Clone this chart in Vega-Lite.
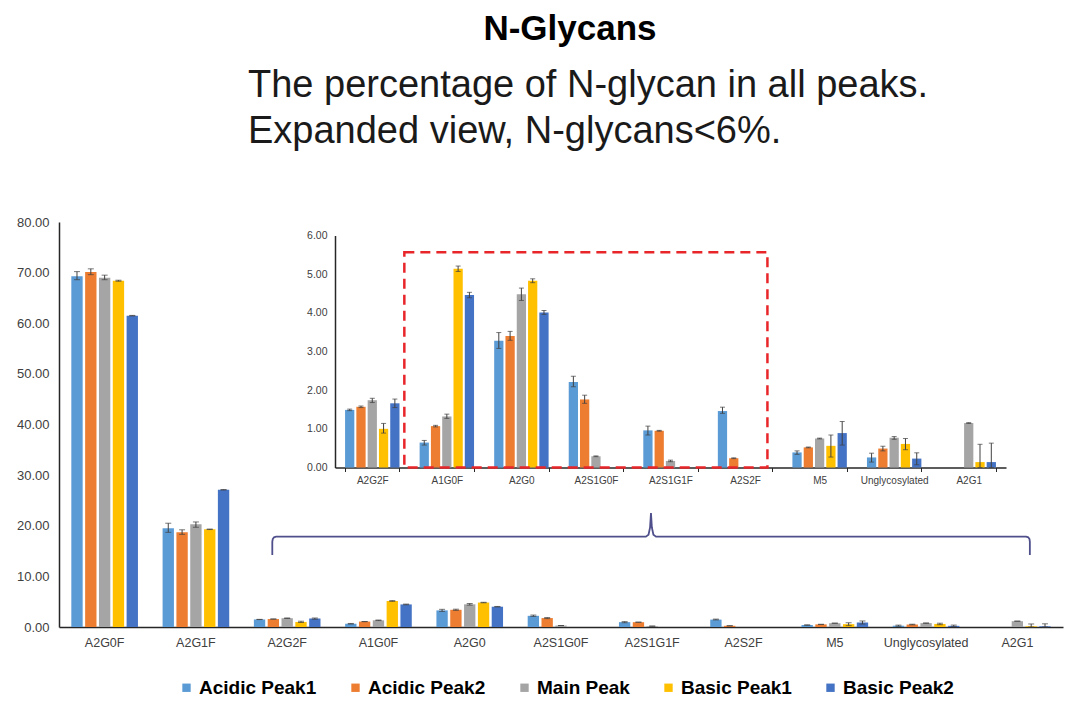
{
  "$schema": "https://vega.github.io/schema/vega-lite/v6.json",
  "width": 1004,
  "height": 405,
  "autosize": {"type": "none"},
  "padding": {"left": 59, "top": 222, "right": 17, "bottom": 88},
  "background": "white",
  "config": {
    "view": {"stroke": null},
    "font": "Liberation Sans",
    "axis": {"grid": false, "labelFont": "Liberation Sans"},
    "legend": {"labelFont": "Liberation Sans"}
  },
  "datasets": {
    "glycans": [
      {"g": "A2G0F", "p": "Acidic Peak1", "v": 69.3, "lo": 68.6, "hi": 70.2},
      {"g": "A2G0F", "p": "Acidic Peak2", "v": 70.1, "lo": 69.6, "hi": 70.75},
      {"g": "A2G0F", "p": "Main Peak", "v": 69.0, "lo": 68.6, "hi": 69.5},
      {"g": "A2G0F", "p": "Basic Peak1", "v": 68.4, "lo": 68.3, "hi": 68.5},
      {"g": "A2G0F", "p": "Basic Peak2", "v": 61.5, "lo": 61.45, "hi": 61.55},
      {"g": "A2G1F", "p": "Acidic Peak1", "v": 19.5, "lo": 18.7, "hi": 20.5},
      {"g": "A2G1F", "p": "Acidic Peak2", "v": 18.7, "lo": 18.3, "hi": 19.2},
      {"g": "A2G1F", "p": "Main Peak", "v": 20.3, "lo": 19.7, "hi": 20.75},
      {"g": "A2G1F", "p": "Basic Peak1", "v": 19.3, "lo": 19.25, "hi": 19.35},
      {"g": "A2G1F", "p": "Basic Peak2", "v": 27.1, "lo": 27.05, "hi": 27.15},
      {"g": "A2G2F", "p": "Acidic Peak1", "v": 1.49, "lo": 1.47, "hi": 1.51},
      {"g": "A2G2F", "p": "Acidic Peak2", "v": 1.57, "lo": 1.55, "hi": 1.59},
      {"g": "A2G2F", "p": "Main Peak", "v": 1.74, "lo": 1.68, "hi": 1.79},
      {"g": "A2G2F", "p": "Basic Peak1", "v": 1.0, "lo": 0.89, "hi": 1.14},
      {"g": "A2G2F", "p": "Basic Peak2", "v": 1.66, "lo": 1.55, "hi": 1.77},
      {"g": "A1G0F", "p": "Acidic Peak1", "v": 0.645, "lo": 0.58, "hi": 0.7},
      {"g": "A1G0F", "p": "Acidic Peak2", "v": 1.07, "lo": 1.05, "hi": 1.09},
      {"g": "A1G0F", "p": "Main Peak", "v": 1.32, "lo": 1.27, "hi": 1.38},
      {"g": "A1G0F", "p": "Basic Peak1", "v": 5.14, "lo": 5.07, "hi": 5.21},
      {"g": "A1G0F", "p": "Basic Peak2", "v": 4.46, "lo": 4.39, "hi": 4.53},
      {"g": "A2G0", "p": "Acidic Peak1", "v": 3.28, "lo": 3.08, "hi": 3.49},
      {"g": "A2G0", "p": "Acidic Peak2", "v": 3.4, "lo": 3.29, "hi": 3.52},
      {"g": "A2G0", "p": "Main Peak", "v": 4.48, "lo": 4.32, "hi": 4.64},
      {"g": "A2G0", "p": "Basic Peak1", "v": 4.83, "lo": 4.78, "hi": 4.88},
      {"g": "A2G0", "p": "Basic Peak2", "v": 4.01, "lo": 3.96, "hi": 4.06},
      {"g": "A2S1G0F", "p": "Acidic Peak1", "v": 2.21, "lo": 2.09, "hi": 2.36},
      {"g": "A2S1G0F", "p": "Acidic Peak2", "v": 1.76, "lo": 1.66, "hi": 1.87},
      {"g": "A2S1G0F", "p": "Main Peak", "v": 0.29, "lo": 0.28, "hi": 0.3},
      {"g": "A2S1G0F", "p": "Basic Peak1", "v": 0, "lo": null, "hi": null},
      {"g": "A2S1G0F", "p": "Basic Peak2", "v": 0, "lo": null, "hi": null},
      {"g": "A2S1G1F", "p": "Acidic Peak1", "v": 0.96, "lo": 0.84, "hi": 1.07},
      {"g": "A2S1G1F", "p": "Acidic Peak2", "v": 0.95, "lo": 0.94, "hi": 0.96},
      {"g": "A2S1G1F", "p": "Main Peak", "v": 0.17, "lo": 0.15, "hi": 0.19},
      {"g": "A2S1G1F", "p": "Basic Peak1", "v": 0, "lo": null, "hi": null},
      {"g": "A2S1G1F", "p": "Basic Peak2", "v": 0, "lo": null, "hi": null},
      {"g": "A2S2F", "p": "Acidic Peak1", "v": 1.46, "lo": 1.4, "hi": 1.56},
      {"g": "A2S2F", "p": "Acidic Peak2", "v": 0.24, "lo": 0.23, "hi": 0.25},
      {"g": "A2S2F", "p": "Main Peak", "v": 0, "lo": null, "hi": null},
      {"g": "A2S2F", "p": "Basic Peak1", "v": 0, "lo": null, "hi": null},
      {"g": "A2S2F", "p": "Basic Peak2", "v": 0, "lo": null, "hi": null},
      {"g": "M5", "p": "Acidic Peak1", "v": 0.39, "lo": 0.34, "hi": 0.43},
      {"g": "M5", "p": "Acidic Peak2", "v": 0.52, "lo": 0.51, "hi": 0.53},
      {"g": "M5", "p": "Main Peak", "v": 0.75, "lo": 0.74, "hi": 0.76},
      {"g": "M5", "p": "Basic Peak1", "v": 0.56, "lo": 0.27, "hi": 0.84},
      {"g": "M5", "p": "Basic Peak2", "v": 0.89, "lo": 0.58, "hi": 1.19},
      {"g": "Unglycosylated", "p": "Acidic Peak1", "v": 0.26, "lo": 0.14, "hi": 0.37},
      {"g": "Unglycosylated", "p": "Acidic Peak2", "v": 0.49, "lo": 0.43, "hi": 0.55},
      {"g": "Unglycosylated", "p": "Main Peak", "v": 0.77, "lo": 0.73, "hi": 0.8},
      {"g": "Unglycosylated", "p": "Basic Peak1", "v": 0.61, "lo": 0.46, "hi": 0.75},
      {"g": "Unglycosylated", "p": "Basic Peak2", "v": 0.23, "lo": 0.07, "hi": 0.38},
      {"g": "A2G1", "p": "Acidic Peak1", "v": 0, "lo": null, "hi": null},
      {"g": "A2G1", "p": "Acidic Peak2", "v": 0, "lo": null, "hi": null},
      {"g": "A2G1", "p": "Main Peak", "v": 1.15, "lo": 1.14, "hi": 1.16},
      {"g": "A2G1", "p": "Basic Peak1", "v": 0.14, "lo": 0, "hi": 0.6},
      {"g": "A2G1", "p": "Basic Peak2", "v": 0.14, "lo": 0, "hi": 0.63}
    ],
    "brace": [
      {"i": 0, "bx": -0.841, "by": -2.263},
      {"i": 1, "bx": -0.841, "by": -1.92},
      {"i": 2, "bx": -0.835, "by": -1.85},
      {"i": 3, "bx": -0.818, "by": -1.805},
      {"i": 4, "bx": -0.79, "by": -1.79},
      {"i": 5, "bx": 4.17, "by": -1.79},
      {"i": 6, "bx": 4.205, "by": -1.74},
      {"i": 7, "bx": 4.226, "by": -1.55},
      {"i": 8, "bx": 4.238, "by": -1.18},
      {"i": 9, "bx": 4.25, "by": -1.55},
      {"i": 10, "bx": 4.271, "by": -1.74},
      {"i": 11, "bx": 4.306, "by": -1.79},
      {"i": 12, "bx": 9.27, "by": -1.79},
      {"i": 13, "bx": 9.298, "by": -1.805},
      {"i": 14, "bx": 9.315, "by": -1.85},
      {"i": 15, "bx": 9.32, "by": -1.92},
      {"i": 16, "bx": 9.32, "by": -2.263}
    ]
  },
  "layer": [
    {
      "data": {"name": "glycans"},
      "encoding": {
        "x": {
          "field": "g", "type": "nominal",
          "sort": ["A2G0F", "A2G1F", "A2G2F", "A1G0F", "A2G0", "A2S1G0F", "A2S1G1F", "A2S2F", "M5", "Unglycosylated", "A2G1"],
          "scale": {"paddingInner": 0.27, "paddingOuter": 0.135},
          "axis": {"title": null, "orient": "bottom", "labelAngle": 0, "labelFontSize": 12.5, "labelColor": "#404040", "ticks": false, "labelPadding": 9, "domainColor": "#262626", "domainWidth": 1.5}
        },
        "xOffset": {
          "field": "p", "type": "nominal",
          "sort": ["Acidic Peak1", "Acidic Peak2", "Main Peak", "Basic Peak1", "Basic Peak2"],
          "scale": {"paddingInner": 0.18}
        }
      },
      "layer": [
        {
          "mark": {"type": "bar"},
          "encoding": {
            "y": {
              "field": "v", "type": "quantitative",
              "scale": {"domain": [0, 80], "nice": false},
              "axis": {"title": null, "orient": "left", "values": [0, 10, 20, 30, 40, 50, 60, 70, 80], "format": ".2f", "labelFontSize": 13, "labelColor": "#404040", "ticks": false, "labelPadding": 10, "domainColor": "#262626", "domainWidth": 1.5}
            },
            "color": {
              "field": "p", "type": "nominal",
              "sort": ["Acidic Peak1", "Acidic Peak2", "Main Peak", "Basic Peak1", "Basic Peak2"],
              "scale": {
                "domain": ["Acidic Peak1", "Acidic Peak2", "Main Peak", "Basic Peak1", "Basic Peak2"],
                "range": ["#5B9BD5", "#ED7D31", "#A5A5A5", "#FFC000", "#4472C4"]
              },
              "legend": {
                "title": null, "orient": "none", "legendX": 118, "legendY": 456,
                "direction": "horizontal", "symbolType": "square", "symbolSize": 70,
                "symbolStrokeWidth": 0, "labelFontSize": 19, "labelFontWeight": "bold",
                "labelColor": "#000000", "labelLimit": 400, "labelOffset": 3, "columnPadding": 29
              }
            }
          }
        },
        {
          "mark": {"type": "rule", "color": "#404040", "strokeWidth": 1},
          "encoding": {
            "y": {
              "field": "lo", "type": "quantitative",
              "axis": {"title": null, "orient": "left", "values": [0, 10, 20, 30, 40, 50, 60, 70, 80], "format": ".2f", "labelFontSize": 13, "labelColor": "#404040", "ticks": false, "labelPadding": 10, "domainColor": "#262626", "domainWidth": 1.5}
            },
            "y2": {"field": "hi"}
          }
        },
        {
          "mark": {"type": "tick", "color": "#404040", "thickness": 1, "size": 6},
          "encoding": {
            "y": {
              "field": "lo", "type": "quantitative",
              "axis": {"title": null, "orient": "left", "values": [0, 10, 20, 30, 40, 50, 60, 70, 80], "format": ".2f", "labelFontSize": 13, "labelColor": "#404040", "ticks": false, "labelPadding": 10, "domainColor": "#262626", "domainWidth": 1.5}
            }
          }
        },
        {
          "mark": {"type": "tick", "color": "#404040", "thickness": 1, "size": 6},
          "encoding": {
            "y": {
              "field": "hi", "type": "quantitative",
              "axis": {"title": null, "orient": "left", "values": [0, 10, 20, 30, 40, 50, 60, 70, 80], "format": ".2f", "labelFontSize": 13, "labelColor": "#404040", "ticks": false, "labelPadding": 10, "domainColor": "#262626", "domainWidth": 1.5}
            }
          }
        }
      ]
    },
    {
      "data": {"name": "glycans"},
      "transform": [{"filter": {"not": {"field": "g", "oneOf": ["A2G0F", "A2G1F"]}}}],
      "encoding": {
        "x": {
          "field": "g", "type": "nominal",
          "sort": ["A2G2F", "A1G0F", "A2G0", "A2S1G0F", "A2S1G1F", "A2S2F", "M5", "Unglycosylated", "A2G1"],
          "scale": {"paddingInner": 0.27, "paddingOuter": 0.135, "range": [276, 947]},
          "axis": {"title": null, "orient": "bottom", "offset": -159.5, "labelAngle": 0, "labelFontSize": 10, "labelColor": "#404040", "ticks": true, "tickBand": "extent", "tickSize": 4, "tickColor": "#262626", "labelPadding": 4, "domainColor": "#262626", "domainWidth": 1.5}
        },
        "xOffset": {
          "field": "p", "type": "nominal",
          "sort": ["Acidic Peak1", "Acidic Peak2", "Main Peak", "Basic Peak1", "Basic Peak2"],
          "scale": {"paddingInner": 0.18}
        }
      },
      "layer": [
        {
          "mark": {"type": "bar"},
          "encoding": {
            "y": {
              "field": "v", "type": "quantitative",
              "scale": {"domain": [0, 6], "nice": false, "range": [245.5, 13.5]},
              "axis": {"title": null, "orient": "left", "offset": -276, "values": [0, 1, 2, 3, 4, 5, 6], "format": ".2f", "labelFontSize": 10.5, "labelColor": "#404040", "ticks": false, "labelPadding": 8, "domainColor": "#262626", "domainWidth": 1.5}
            },
            "color": {
              "field": "p", "type": "nominal",
              "scale": {
                "domain": ["Acidic Peak1", "Acidic Peak2", "Main Peak", "Basic Peak1", "Basic Peak2"],
                "range": ["#5B9BD5", "#ED7D31", "#A5A5A5", "#FFC000", "#4472C4"]
              },
              "legend": null
            }
          }
        },
        {
          "mark": {"type": "rule", "color": "#404040", "strokeWidth": 1},
          "encoding": {
            "y": {
              "field": "lo", "type": "quantitative",
              "axis": {"title": null, "orient": "left", "offset": -276, "values": [0, 1, 2, 3, 4, 5, 6], "format": ".2f", "labelFontSize": 10.5, "labelColor": "#404040", "ticks": false, "labelPadding": 8, "domainColor": "#262626", "domainWidth": 1.5}
            },
            "y2": {"field": "hi"}
          }
        },
        {
          "mark": {"type": "tick", "color": "#404040", "thickness": 1, "size": 5},
          "encoding": {
            "y": {
              "field": "lo", "type": "quantitative",
              "axis": {"title": null, "orient": "left", "offset": -276, "values": [0, 1, 2, 3, 4, 5, 6], "format": ".2f", "labelFontSize": 10.5, "labelColor": "#404040", "ticks": false, "labelPadding": 8, "domainColor": "#262626", "domainWidth": 1.5}
            }
          }
        },
        {
          "mark": {"type": "tick", "color": "#404040", "thickness": 1, "size": 5},
          "encoding": {
            "y": {
              "field": "hi", "type": "quantitative",
              "axis": {"title": null, "orient": "left", "offset": -276, "values": [0, 1, 2, 3, 4, 5, 6], "format": ".2f", "labelFontSize": 10.5, "labelColor": "#404040", "ticks": false, "labelPadding": 8, "domainColor": "#262626", "domainWidth": 1.5}
            }
          }
        }
      ]
    },
    {
      "data": {"values": [{}]},
      "layer": [
        {
          "mark": {"type": "rect", "fill": null, "fillOpacity": 0, "stroke": "#E8262A", "strokeWidth": 2.5, "strokeDash": [10, 6]},
          "encoding": {
            "x": {"datum": 0.93, "type": "quantitative", "scale": {"domain": [0, 9], "range": [276, 947], "nice": false, "zero": false}, "axis": null},
            "x2": {"datum": 5.8},
            "y": {"datum": 0, "type": "quantitative", "scale": {"domain": [0, 6], "range": [245.5, 13.5], "nice": false, "zero": false}, "axis": null},
            "y2": {"datum": 5.565}
          }
        },
        {
          "data": {"name": "brace"},
          "mark": {"type": "line", "color": "#4F4F8C", "strokeWidth": 1.8, "interpolate": "linear"},
          "encoding": {
            "x": {"field": "bx", "type": "quantitative", "scale": {"domain": [0, 9], "range": [276, 947], "nice": false, "zero": false}, "axis": null},
            "y": {"field": "by", "type": "quantitative", "scale": {"domain": [0, 6], "range": [245.5, 13.5], "nice": false, "zero": false}, "axis": null},
            "order": {"field": "i", "type": "quantitative"}
          }
        },
        {
          "mark": {"type": "text", "text": "N-Glycans", "font": "Liberation Sans", "fontSize": 35, "fontWeight": "bold", "color": "#000000", "align": "center", "baseline": "alphabetic"},
          "encoding": {
            "x": {"datum": 3.152, "type": "quantitative", "scale": {"domain": [0, 9], "range": [276, 947], "nice": false, "zero": false}, "axis": null},
            "y": {"datum": 11.055, "type": "quantitative", "scale": {"domain": [0, 6], "range": [245.5, 13.5], "nice": false, "zero": false}, "axis": null}
          }
        },
        {
          "mark": {"type": "text", "text": "The percentage of N-glycan in all peaks.", "font": "Liberation Sans", "fontSize": 38, "color": "#1A1A1A", "align": "left", "baseline": "alphabetic"},
          "encoding": {
            "x": {"datum": -1.167, "type": "quantitative", "scale": {"domain": [0, 9], "range": [276, 947], "nice": false, "zero": false}, "axis": null},
            "y": {"datum": 9.581, "type": "quantitative", "scale": {"domain": [0, 6], "range": [245.5, 13.5], "nice": false, "zero": false}, "axis": null}
          }
        },
        {
          "mark": {"type": "text", "text": "Expanded view, N-glycans<6%.", "font": "Liberation Sans", "fontSize": 38, "color": "#1A1A1A", "align": "left", "baseline": "alphabetic"},
          "encoding": {
            "x": {"datum": -1.167, "type": "quantitative", "scale": {"domain": [0, 9], "range": [276, 947], "nice": false, "zero": false}, "axis": null},
            "y": {"datum": 8.391, "type": "quantitative", "scale": {"domain": [0, 6], "range": [245.5, 13.5], "nice": false, "zero": false}, "axis": null}
          }
        }
      ]
    }
  ],
  "resolve": {"scale": {"x": "independent", "y": "independent", "xOffset": "independent"}}
}
